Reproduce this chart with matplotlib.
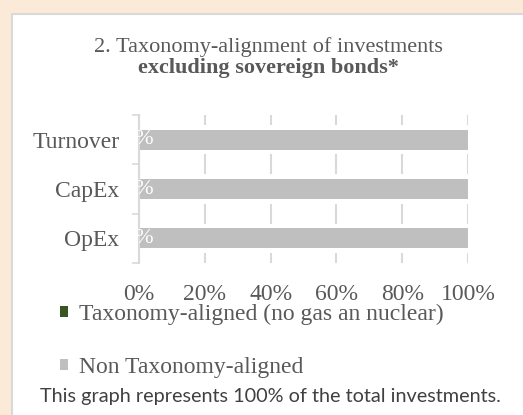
import matplotlib
matplotlib.use("Agg")
import matplotlib.pyplot as plt
import numpy as np
from matplotlib.patches import Rectangle

# data
categories = ["Turnover", "CapEx", "OpEx"]
aligned = [0, 0, 0]
non_aligned = [100, 100, 100]
x_ticks = [0, 20, 40, 60, 80, 100]
x_tick_labels = ["0%", "20%", "40%", "60%", "80%", "100%"]
series_labels = ["Taxonomy-aligned (no gas an nuclear)", "Non Taxonomy-aligned"]
title_line1 = "2. Taxonomy-alignment of investments"
title_line2 = "excluding sovereign bonds*"
footnote = "This graph represents 100% of the total investments."

TXT = "#595959"
GRID = "#D9D9D9"
GREEN = "#375623"
GREY = "#BFBFBF"
SERIF = "Liberation Serif"

W, H = 523, 415
fig = plt.figure(figsize=(W / 100, H / 100), dpi=100)
fig.patch.set_facecolor("#FBEAD8")

# white panel
fig.patches.append(Rectangle((12 / W, -0.1), 1.2, (H - 14) / H + 0.1,
                             transform=fig.transFigure, facecolor="white",
                             edgecolor=GRID, linewidth=1.5, zorder=-1))

ax = fig.add_axes([139 / W, 1 - 263 / H, (468 - 139) / W, (263 - 115) / H])
ax.set_facecolor("none")
ax.set_zorder(2)

y = np.arange(len(categories))
bar_h = 0.41
halo_h = 0.6
totals = [a + b for a, b in zip(aligned, non_aligned)]

ax.set_xlim(0, 100)
ax.set_ylim(len(categories) - 0.5, -0.5)
ax.set_xticks(x_ticks)
ax.set_xticklabels(x_tick_labels, fontsize=17, color=TXT, family=SERIF)
ax.tick_params(axis="x", length=0, pad=15)
ax.set_yticks(y)
ax.set_yticklabels(categories, fontsize=17, color=TXT, family=SERIF)
ax.tick_params(axis="y", length=0, pad=14)
ax.set_yticks(np.arange(len(categories) + 1) - 0.5, minor=True)
ax.tick_params(axis="y", which="minor", length=5, width=1.2, color=GRID)

ax.grid(axis="x", color=GRID, linewidth=1.5, zorder=0)
ax.set_axisbelow(True)
for s in ["top", "right", "bottom"]:
    ax.spines[s].set_visible(False)
ax.spines["left"].set_color(GRID)
ax.spines["left"].set_linewidth(1.5)

# white gaps around bars hide the gridlines there
ax.barh(y, totals, height=halo_h, color="white", zorder=1)
b1 = ax.barh(y, aligned, height=bar_h, color=GREEN, label=series_labels[0], zorder=2)
b2 = ax.barh(y, non_aligned, left=aligned, height=bar_h, color=GREY,
             label=series_labels[1], zorder=2)

for yi, v in zip(y, aligned):
    ax.text(v, yi, f"{v}%", ha="center", va="center", color="white",
            fontsize=16, family=SERIF, zorder=5)

fig.text(268 / W, 1 - 47 / H, title_line1, ha="center", va="center",
         fontsize=16, color=TXT, family=SERIF)
fig.text(268 / W, 1 - 68 / H, title_line2, ha="center", va="center",
         fontsize=16, color=TXT, family=SERIF, weight="bold")

leg = fig.legend(handles=[b1, b2], loc="upper left",
                 bbox_to_anchor=(60 / W, 1 - 304 / H), frameon=False,
                 prop={"family": SERIF, "size": 17}, labelcolor=TXT,
                 handlelength=0.35, handleheight=0.35, handletextpad=0.45,
                 labelspacing=1.35, borderpad=0, borderaxespad=0)

fig.text(270 / W, 1 - 396 / H, footnote, ha="center", va="center",
         fontsize=14.3, color="#404040", family="Lato")

fig.savefig("out.png", dpi=100, facecolor=fig.get_facecolor())
